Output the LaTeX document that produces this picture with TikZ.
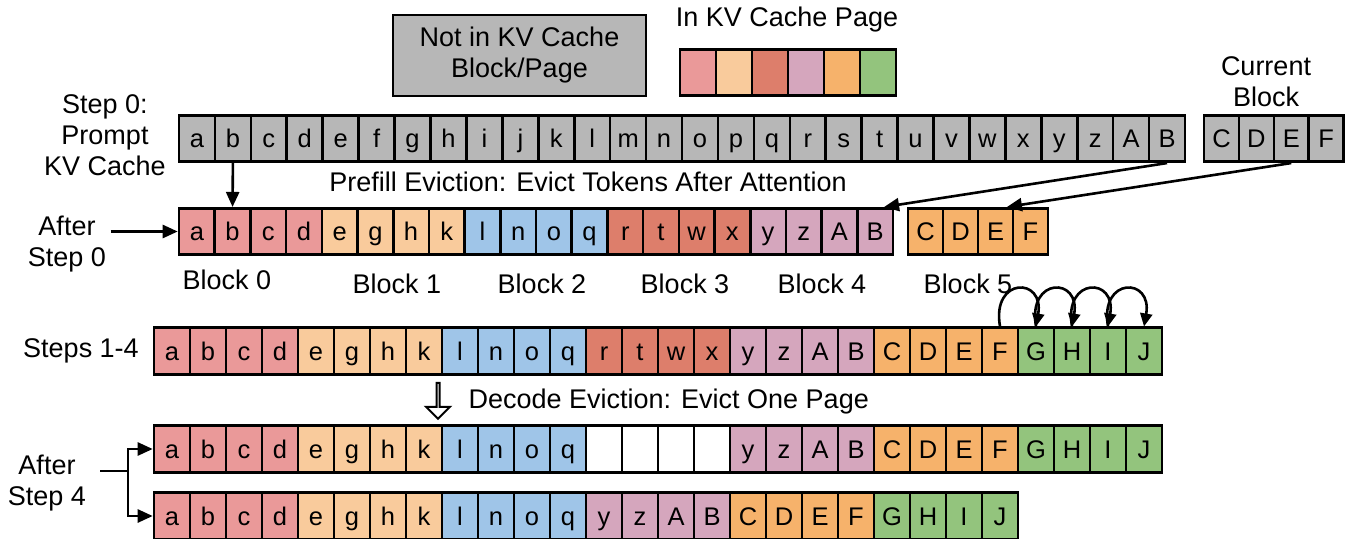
\documentclass[tikz,border=0pt]{standalone}
\usepackage{fontspec}
\setmainfont{Liberation Sans}
\usetikzlibrary{arrows.meta,positioning,shapes.arrows}

\definecolor{b0}{HTML}{EA9999}
\definecolor{b1}{HTML}{F9CB9C}
\definecolor{b2}{HTML}{9FC5E8}
\definecolor{b3}{HTML}{DD7E6B}
\definecolor{b4}{HTML}{D5A6BD}
\definecolor{b5}{HTML}{F6B26B}
\definecolor{gn}{HTML}{93C47D}
\definecolor{gr}{HTML}{B7B7B7}

% one row of token cells: prefix, x of left edge, y of centre, cell width, letter/colour list
\newcommand{\tokrow}[5]{%
	\foreach \t/\c [count=\i] in {#5}
		\node[tok,fill=\c,minimum width=#4pt] (#1-\i) at ({#2+(\i-0.5)*#4},#3) {\t};%
}

\begin{document}
\begin{tikzpicture}[%
	x=1pt,y=1pt,>={Triangle[length=15pt,width=13pt]},line width=2.6pt,
	tok/.style={draw=black,minimum height=46.5pt,inner sep=0pt,
		text height=18pt,text depth=0pt,font=\fontsize{25.5}{30}\selectfont},
	lbl/.style={align=center,font=\fontsize{27}{31}\selectfont}]

	\useasboundingbox (0,0) rectangle (1346,-538);

	% legend
	\node[draw,fill=gr,minimum width=253pt,minimum height=81pt,lbl]	(notkv)	at (519.5,-55.5)	{Not in KV Cache\\Block/Page};
	\node[lbl]			(inkv)		at (787,-20)		{In KV Cache Page};
	\tokrow{lg}{680}{-72.5}{36}{{}/b0,{}/b1,{}/b3,{}/b4,{}/b5,{}/gn}

	% step 0
	\node[lbl]			(step0)		at (105,-135)		{Step 0:\\Prompt\\KV Cache};
	\node[lbl]			(curblk)	at (1266,-82)		{Current\\Block};
	\tokrow{s0}{179}{-138.5}{35.93}{a/gr,b/gr,c/gr,d/gr,e/gr,f/gr,g/gr,h/gr,i/gr,j/gr,k/gr,l/gr,m/gr,n/gr,o/gr,p/gr,q/gr,r/gr,s/gr,t/gr,u/gr,v/gr,w/gr,x/gr,y/gr,z/gr,A/gr,B/gr}
	\tokrow{cb}{1204}{-138.5}{34.9}{C/gr,D/gr,E/gr,F/gr}

	\node[lbl]			(prefill)	at (588,-182)		{Prefill Eviction: Evict Tokens After Attention};

	% after step 0
	\node[lbl]			(aft0)		at (67,-244)		{After\\Step 0};
	\tokrow{a0}{179}{-231.5}{35.7}{a/b0,b/b0,c/b0,d/b0,e/b1,g/b1,h/b1,k/b1,l/b2,n/b2,o/b2,q/b2,r/b3,t/b3,w/b3,x/b3,y/b4,z/b4,A/b4,B/b4}
	\tokrow{a5}{908}{-231.5}{35}{C/b5,D/b5,E/b5,F/b5}

	\node[lbl]			(blk0)		at (227,-280)		{Block 0};
	\node[lbl]			(blk1)		at (397,-284)		{Block 1};
	\node[lbl]			(blk2)		at (542,-284)		{Block 2};
	\node[lbl]			(blk3)		at (685,-284)		{Block 3};
	\node[lbl]			(blk4)		at (822,-284)		{Block 4};
	\node[lbl]			(blk5)		at (968,-284)		{Block 5};

	\draw[->] (s0-2.south) -- (a0-2.north);
	\draw[->] (s0-28.south) -- (a0-20.70);
	\draw[->] (cb-3.south) -- (a5-3.65);
	\draw[->] (aft0.east |- a0-1.west) -- (a0-1.west);

	% steps 1-4
	\node[lbl]			(steps)		at (81,-351)		{Steps 1-4};
	\tokrow{st}{154}{-351}{36}{a/b0,b/b0,c/b0,d/b0,e/b1,g/b1,h/b1,k/b1,l/b2,n/b2,o/b2,q/b2,r/b3,t/b3,w/b3,x/b3,y/b4,z/b4,A/b4,B/b4,C/b5,D/b5,E/b5,F/b5,G/gn,H/gn,I/gn,J/gn}
	\foreach \p/\q in {24/25,25/26,26/27,27/28}
		\path[->,>={Triangle[length=13pt,width=12pt]}] (st-\p.north) edge[out=100,in=80,looseness=3.6] (st-\q.north);

	% decode eviction
	\node[draw,fill=white,single arrow,rotate=-90,minimum height=36pt,minimum width=24pt,
		single arrow head extend=7pt,inner sep=0pt,line width=2pt]	(decarrow)	at (438,-400)	{};
	\node[lbl,anchor=west]	(decode)	at (464,-402)		{Decode Eviction: Evict One Page};

	% after step 4
	\node[lbl]			(aft4)		at (47,-483)		{After\\Step 4};
	\tokrow{da}{154}{-449}{36}{a/b0,b/b0,c/b0,d/b0,e/b1,g/b1,h/b1,k/b1,l/b2,n/b2,o/b2,q/b2,{}/white,{}/white,{}/white,{}/white,y/b4,z/b4,A/b4,B/b4,C/b5,D/b5,E/b5,F/b5,G/gn,H/gn,I/gn,J/gn}
	\tokrow{db}{154}{-516}{36}{a/b0,b/b0,c/b0,d/b0,e/b1,g/b1,h/b1,k/b1,l/b2,n/b2,o/b2,q/b2,y/b4,z/b4,A/b4,B/b4,C/b5,D/b5,E/b5,F/b5,G/gn,H/gn,I/gn,J/gn}

	\coordinate (fork) at (128,-471);
	\draw (100,-471) -- (fork);
	\draw[->] (fork) |- (da-1.west);
	\draw[->] (fork) |- (db-1.west);

\end{tikzpicture}
\end{document}
